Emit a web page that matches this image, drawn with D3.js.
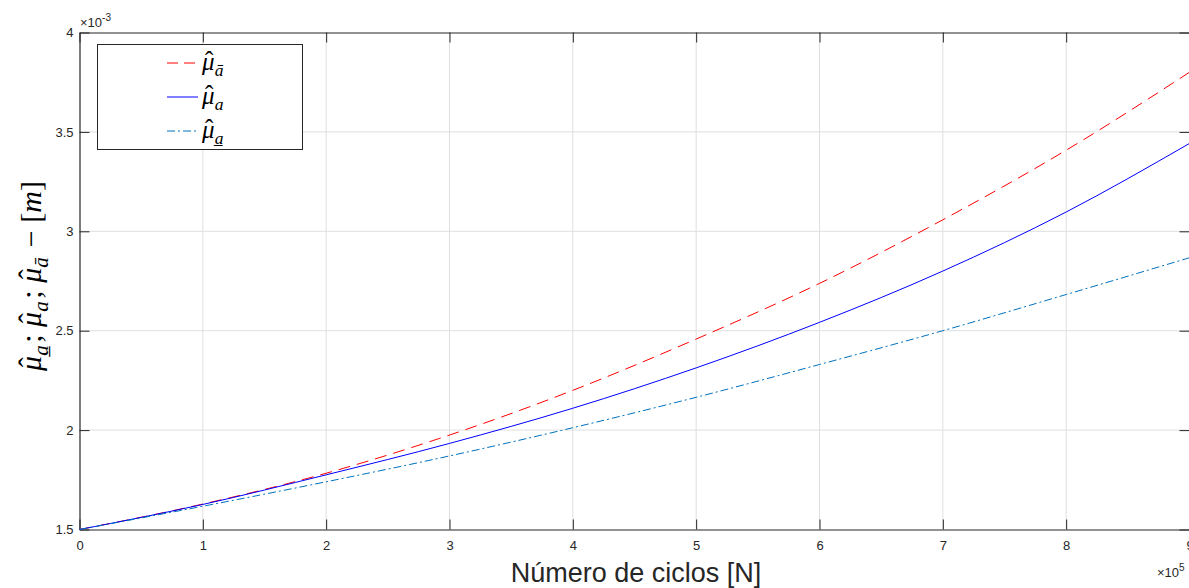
<!DOCTYPE html>
<html lang="es">
    <head>
        <meta charset="utf-8">
        <title>Media estimada vs número de ciclos</title>
        <script src="https://d3js.org/d3.v7.min.js"></script>
        <style type="text/css">
            body{
                margin: 0;
                background: #fff;
            }
            svg{
                display: block;
                width: 1189px;
                height: 588px;
            }
            .tick-label{
                font-family: "Liberation Sans", Arial, sans-serif;
                font-size: 13px;
                fill: #262626;
            }
            .math{
                font-family: "Liberation Serif", "DejaVu Serif", serif;
            }
        </style>
    </head>
    <body>
        <svg></svg>
        <script type="text/javascript">

        const w = 1189;
        const h = 588;

        //DATA (x in 10^5 cycles, y in 10^-3 m)
        const cycles  = [0, 1, 2, 3, 4, 5, 6, 7, 8, 9];
        const muUpper = [1.5, 1.628, 1.783, 1.975, 2.2, 2.458, 2.738, 3.058, 3.408, 3.8];
        const muMean  = [1.5, 1.626, 1.775, 1.933, 2.11, 2.313, 2.542, 2.8, 3.097, 3.442];
        const muLower = [1.5, 1.617, 1.74, 1.87, 2.012, 2.165, 2.33, 2.5, 2.682, 2.867];

        const xTicks = [0, 1, 2, 3, 4, 5, 6, 7, 8, 9];
        const yTicks = [1.5, 2, 2.5, 3, 3.5, 4];

        const seriesNames = ["upper", "mean", "lower"];
        const seriesColors = ["#ff0000", "#0000ff", "#0072bd"];
        const seriesDash = ["12,7", null, "8,3,2,3"];
        const legendDash = ["11,6", null, "8,3,2,3"];
        const subMark = ["\u0304", "", "\u0332"]; // bar, none, underline

        const series = seriesNames.map((name, i) => ({
            name: name,
            color: seriesColors[i],
            dash: seriesDash[i],
            values: cycles.map((c, j) => ({x: c, y: [muUpper, muMean, muLower][i][j]}))
        }));

        //SCALES
        const x = d3.scaleLinear().domain([0, 9]).range([79.5, 1189.5]);
        const y = d3.scaleLinear().domain([1.5, 4]).range([529.5, 32.5]);

        const svg = d3.select("svg").attr("viewBox", `0 0 ${w} ${h}`);

        //GRID
        svg.append("g")
           .selectAll("line")
           .data(xTicks.slice(1, -1))
           .join("line")
           .attr("x1", d => x(d)).attr("x2", d => x(d))
           .attr("y1", y(4)).attr("y2", y(1.5))
           .attr("stroke", "#dfdfdf");

        svg.append("g")
           .selectAll("line")
           .data(yTicks.slice(1, -1))
           .join("line")
           .attr("x1", x(0)).attr("x2", x(9))
           .attr("y1", d => y(d)).attr("y2", d => y(d))
           .attr("stroke", "#dfdfdf");

        //AXES (matlab style box, ticks inside)
        const axisColor = "#262626";
        const axBottom = svg.append("g").attr("transform", `translate(0,${y(1.5)})`)
           .call(d3.axisBottom(x).tickValues(xTicks).tickSizeInner(-10).tickSizeOuter(0).tickPadding(6).tickFormat(d => d));
        const axTop = svg.append("g").attr("transform", `translate(0,${y(4)})`)
           .call(d3.axisTop(x).tickValues(xTicks).tickSizeInner(-10).tickSizeOuter(0).tickFormat(""));
        const axLeft = svg.append("g").attr("transform", `translate(${x(0)},0)`)
           .call(d3.axisLeft(y).tickValues(yTicks).tickSizeInner(-10).tickSizeOuter(0).tickPadding(6).tickFormat(d => d));
        const axRight = svg.append("g").attr("transform", `translate(${x(9)},0)`)
           .call(d3.axisRight(y).tickValues(yTicks).tickSizeInner(-10).tickSizeOuter(0).tickFormat(""));

        [axBottom, axTop, axLeft, axRight].forEach(g => {
            g.select(".domain").attr("stroke", axisColor).attr("stroke-width", 1.2);
            g.selectAll(".tick line").attr("stroke", axisColor);
            g.selectAll(".tick text").attr("class", "tick-label").attr("fill", null);
        });
        axBottom.selectAll(".tick text").attr("y", 9).attr("dy", "0.9em");
        axLeft.selectAll(".tick text").attr("x", -6);

        //EXPONENT LABELS
        const e1 = svg.append("text").attr("class", "tick-label").attr("x", 80).attr("y", 27);
        e1.append("tspan").text("\u00d710");
        e1.append("tspan").attr("font-size", 10).attr("dy", -6).text("-3");

        const e2 = svg.append("text").attr("class", "tick-label").attr("x", 1157).attr("y", 577);
        e2.append("tspan").text("\u00d710");
        e2.append("tspan").attr("font-size", 10).attr("dy", -6).text("5");

        //LINES
        const line = d3.line()
                       .x(d => x(d.x))
                       .y(d => y(d.y))
                       .curve(d3.curveMonotoneX);

        svg.append("g")
           .selectAll("path")
           .data(series)
           .join("path")
           .attr("d", d => line(d.values))
           .attr("fill", "none")
           .attr("stroke", d => d.color)
           .attr("stroke-width", 1)
           .attr("stroke-dasharray", d => d.dash);

        //X TITLE
        svg.append("text")
           .attr("x", 636).attr("y", 582)
           .attr("text-anchor", "middle")
           .attr("font-family", "'Liberation Sans', Arial, sans-serif")
           .attr("font-size", 27)
           .attr("fill", "#262626")
           .text("Número de ciclos [N]");

        //MU HAT HELPER: mu, hat drawn back over it, then subscript a
        function muHat(textSel, size, mark){
            textSel.append("tspan").attr("font-style", "italic").text("\u03bc");
            textSel.append("tspan")
                   .attr("dx", -0.38 * size).attr("dy", -0.06 * size)
                   .text("\u02c6");
            textSel.append("tspan").attr("font-style", "italic")
                   .attr("font-size", size * 0.7)
                   .attr("dx", 0.05 * size).attr("dy", 0.28 * size)
                   .text("a" + mark);
            textSel.append("tspan").attr("font-size", size).attr("dy", -0.22 * size).text("\u200a");
        }

        //Y TITLE
        const yt = svg.append("text")
           .attr("class", "math")
           .attr("transform", "translate(41,276) rotate(-90)")
           .attr("text-anchor", "middle")
           .attr("font-size", 30)
           .attr("fill", "#000");
        muHat(yt, 30, subMark[2]);
        yt.append("tspan").text("; ");
        muHat(yt, 30, subMark[1]);
        yt.append("tspan").text("; ");
        muHat(yt, 30, subMark[0]);
        yt.append("tspan").text(" \u2212 [");
        yt.append("tspan").attr("font-style", "italic").text("m");
        yt.append("tspan").text("]");

        //LEGEND
        const legend = svg.append("g");
        legend.append("rect")
              .attr("x", 97.5).attr("y", 44.5)
              .attr("width", 205).attr("height", 105)
              .attr("fill", "#fff")
              .attr("stroke", axisColor);

        const rows = legend.selectAll("g.row")
              .data(series)
              .join("g")
              .attr("class", "row")
              .attr("transform", (d, i) => `translate(0,${63 + i * 34})`);

        rows.append("line")
            .attr("x1", 167).attr("x2", 198)
            .attr("stroke", d => d.color)
            .attr("stroke-width", 1)
            .attr("stroke-dasharray", (d, i) => legendDash[i]);

        rows.append("text")
            .attr("class", "math")
            .attr("x", 202).attr("y", 7)
            .attr("font-size", 25)
            .each(function(d, i){ muHat(d3.select(this), 25, subMark[i]); });

        </script>
    </body>
</html>
